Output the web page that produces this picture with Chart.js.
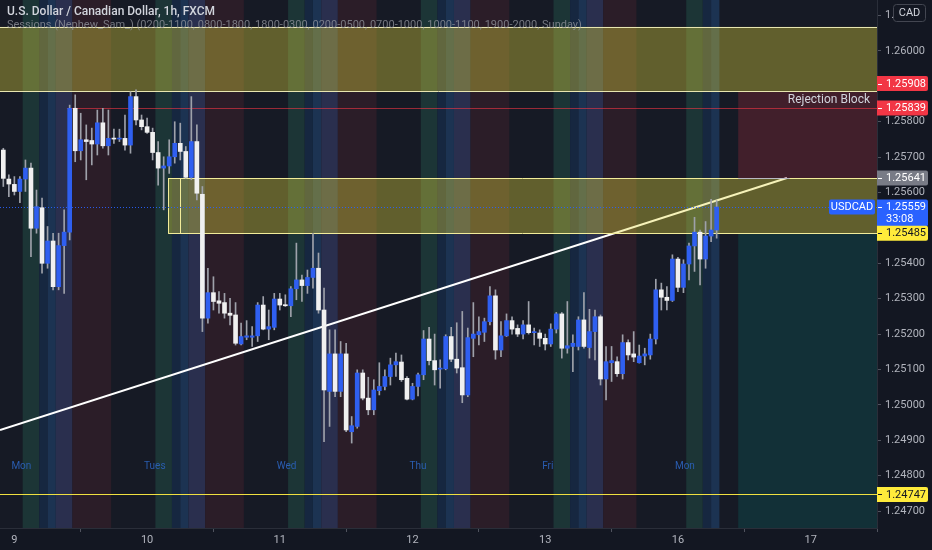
<!DOCTYPE html>
<html>
<head>
<meta charset="utf-8">
<script src="https://cdn.jsdelivr.net/npm/chart.js@4.4.0/dist/chart.umd.min.js"></script>
<style>
html, body { margin: 0; padding: 0; background: #131722; }
#wrap { width: 932px; height: 550px; position: relative; }
</style>
</head>
<body>
<div id="wrap"><canvas id="grafico"></canvas></div>
<script>
// Candles USDCAD 1h (FXCM)
const opens = [1.25720,1.25638,1.25623,1.25603,1.25638,1.25669,1.25499,1.25557,1.25400,1.25463,
  1.25334,1.25450,1.25488,1.25838,1.25718,1.25749,1.25747,1.25737,1.25797,1.25732,
  1.25753,1.25751,1.25753,1.25734,1.25871,1.25805,1.25786,1.25770,1.25713,1.25669,
  1.25675,1.25701,1.25739,1.25716,1.25643,1.25744,1.25595,1.25245,1.25317,1.25294,
  1.25289,1.25259,1.25254,1.25172,1.25191,1.25191,1.25195,1.25282,1.25214,1.25219,
  1.25299,1.25283,1.25280,1.25328,1.25353,1.25337,1.25360,1.25386,1.25268,1.25038,
  1.25144,1.25038,1.25144,1.24924,1.24939,1.25090,1.25019,1.24986,1.25040,1.25052,
  1.25080,1.25113,1.25121,1.25075,1.25016,1.25052,1.25085,1.25186,1.25125,1.25101,
  1.25102,1.25193,1.25129,1.25105,1.25028,1.25188,1.25198,1.25205,1.25235,1.25308,
  1.25155,1.25195,1.25238,1.25216,1.25200,1.25226,1.25204,1.25203,1.25188,1.25172,
  1.25214,1.25257,1.25160,1.25165,1.25165,1.25240,1.25162,1.25207,1.25249,1.25073,
  1.25119,1.25122,1.25088,1.25176,1.25144,1.25119,1.25138,1.25141,1.25186,1.25325,
  1.25304,1.25295,1.25412,1.25332,1.25398,1.25449,1.25488,1.25412,1.25477,1.25494];
const highs = [1.25725,1.25650,1.25645,1.25645,1.25692,1.25683,1.25607,1.25584,1.25504,1.25485,
  1.25485,1.25551,1.25847,1.25876,1.25824,1.25791,1.25782,1.25833,1.25838,1.25833,
  1.25779,1.25779,1.25819,1.25885,1.25890,1.25819,1.25810,1.25782,1.25744,1.25701,
  1.25749,1.25800,1.25796,1.25730,1.25871,1.25791,1.25617,1.25386,1.25362,1.25320,
  1.25315,1.25301,1.25289,1.25231,1.25238,1.25221,1.25289,1.25306,1.25268,1.25315,
  1.25315,1.25311,1.25334,1.25457,1.25367,1.25381,1.25485,1.25429,1.25330,1.25212,
  1.25212,1.25179,1.25174,1.24967,1.25099,1.25099,1.25078,1.25071,1.25119,1.25099,
  1.25132,1.25146,1.25141,1.25080,1.25061,1.25090,1.25210,1.25219,1.25200,1.25127,
  1.25198,1.25219,1.25232,1.25264,1.25217,1.25289,1.25249,1.25245,1.25334,1.25325,
  1.25235,1.25257,1.25249,1.25226,1.25238,1.25292,1.25217,1.25212,1.25200,1.25229,
  1.25261,1.25261,1.25292,1.25198,1.25249,1.25317,1.25270,1.25268,1.25254,1.25165,
  1.25165,1.25136,1.25198,1.25184,1.25207,1.25169,1.25160,1.25200,1.25355,1.25344,
  1.25334,1.25424,1.25417,1.25410,1.25457,1.25530,1.25494,1.25518,1.25581,1.25577];
const lows = [1.25617,1.25588,1.25593,1.25571,1.25603,1.25419,1.25485,1.25372,1.25386,1.25325,
  1.25325,1.25315,1.25466,1.25687,1.25692,1.25636,1.25678,1.25706,1.25725,1.25706,
  1.25739,1.25744,1.25720,1.25711,1.25791,1.25777,1.25767,1.25692,1.25621,1.25551,
  1.25654,1.25683,1.25692,1.25640,1.25636,1.25579,1.25207,1.25231,1.25268,1.25259,
  1.25245,1.25226,1.25169,1.25169,1.25184,1.25165,1.25179,1.25212,1.25184,1.25212,
  1.25268,1.25278,1.25249,1.25297,1.25292,1.25315,1.25330,1.25259,1.24896,1.24939,
  1.25023,1.25023,1.24924,1.24892,1.24934,1.25014,1.24972,1.24972,1.25028,1.25042,
  1.25056,1.25080,1.25066,1.25014,1.25014,1.25025,1.25071,1.25113,1.25056,1.25047,
  1.25099,1.25122,1.25090,1.25006,1.25023,1.25136,1.25169,1.25179,1.25226,1.25129,
  1.25136,1.25193,1.25200,1.25193,1.25186,1.25200,1.25169,1.25165,1.25155,1.25165,
  1.25203,1.25132,1.25146,1.25094,1.25155,1.25160,1.25132,1.25127,1.25056,1.25014,
  1.25066,1.25080,1.25073,1.25127,1.25122,1.25118,1.25113,1.25129,1.25172,1.25268,
  1.25268,1.25292,1.25320,1.25317,1.25353,1.25377,1.25339,1.25386,1.25461,1.25471];
const closes = [1.25640,1.25624,1.25603,1.25638,1.25669,1.25499,1.25560,1.25400,1.25463,1.25334,
  1.25450,1.25488,1.25838,1.25718,1.25749,1.25744,1.25737,1.25797,1.25732,1.25753,
  1.25751,1.25753,1.25734,1.25871,1.25805,1.25786,1.25770,1.25713,1.25669,1.25675,
  1.25701,1.25739,1.25716,1.25643,1.25744,1.25598,1.25245,1.25317,1.25292,1.25287,
  1.25259,1.25253,1.25174,1.25193,1.25195,1.25195,1.25282,1.25214,1.25221,1.25299,
  1.25282,1.25280,1.25328,1.25353,1.25337,1.25360,1.25386,1.25268,1.25042,1.25144,
  1.25038,1.25144,1.24929,1.24941,1.25090,1.25019,1.24986,1.25042,1.25052,1.25080,
  1.25113,1.25122,1.25071,1.25016,1.25052,1.25085,1.25186,1.25125,1.25099,1.25103,
  1.25193,1.25129,1.25104,1.25028,1.25190,1.25200,1.25207,1.25235,1.25308,1.25155,
  1.25195,1.25238,1.25214,1.25200,1.25226,1.25204,1.25207,1.25188,1.25172,1.25214,
  1.25257,1.25160,1.25167,1.25174,1.25240,1.25165,1.25207,1.25249,1.25073,1.25122,
  1.25125,1.25088,1.25176,1.25141,1.25135,1.25138,1.25144,1.25186,1.25325,1.25304,
  1.25295,1.25412,1.25332,1.25398,1.25449,1.25488,1.25412,1.25477,1.25494,1.25559];

// Eixos
const dayTicks = [2, 26, 50, 74, 98, 122, 146];
const dayLabels = ['9', '10', '11', '12', '13', '16', '17'];
const priceTicks = [1.247, 1.248, 1.249, 1.250, 1.251, 1.252, 1.253, 1.254, 1.255, 1.256, 1.257, 1.258, 1.259, 1.260, 1.261];

// Sessões (indicador Nephew_Sam_)
const weekdayNames = ['Mon', 'Tues', 'Wed', 'Thu', 'Fri', 'Mon'];
const sessionDayStart = [2, 26, 50, 74, 98, 122];
const sessionDayEnd = [25.5, 49.5, 73.5, 97.5, 114.5, 129.5];
const sessionFrom = [1.5, 4.5, 6, 7.5, 10.5];
const sessionTo = [4.5, 6, 7.5, 10.5, 17.5];

// Desenhos
const trendX = [-0.6, 141.7];
const trendY = [1.24929, 1.25641];
const lastPrice = 1.25559;

const sessionColors = ['#1c3536', '#162740', '#1c3352', '#2a2f4e', '#2b1d28'];

const sessoesPlugin = {
    id: 'sessoes',
    beforeDatasetsDraw(chart) {
        const { ctx, chartArea: a, scales: { x } } = chart;
        ctx.save();
        ctx.beginPath();
        ctx.rect(a.left, a.top, a.width, a.height);
        ctx.clip();
        ctx.fillStyle = '#161a25';
        ctx.fillRect(a.left, a.top, a.width, a.height);
        sessionDayStart.forEach((d, i) => {
            sessionFrom.forEach((h0, j) => {
                const s = d + h0;
                const e = Math.min(d + sessionTo[j], sessionDayEnd[i]);
                if (e <= s) return;
                const x0 = x.getPixelForValue(s), x1 = x.getPixelForValue(e);
                ctx.fillStyle = sessionColors[j];
                ctx.fillRect(x0, a.top, x1 - x0, a.height);
            });
        });
        ctx.restore();
    },
    beforeDatasetDraw(chart, args) {
        if (args.index !== 1) return;
        const { ctx, chartArea: a, scales: { x, y } } = chart;
        const px = v => x.getPixelForValue(v);
        const py = v => y.getPixelForValue(v);
        ctx.save();
        ctx.beginPath();
        ctx.rect(a.left, a.top, a.width, a.height);
        ctx.clip();

        // zona amarela superior
        ctx.fillStyle = 'rgba(230, 220, 60, 0.36)';
        ctx.fillRect(a.left, py(1.26068), a.width, py(1.25887) - py(1.26068));
        // rejection block
        ctx.fillStyle = 'rgba(242, 54, 69, 0.2)';
        ctx.fillRect(px(132.9), py(1.25887), a.right - px(132.9), py(1.25641) - py(1.25887));
        // caixa teal
        ctx.fillStyle = 'rgba(0, 150, 136, 0.18)';
        ctx.fillRect(px(132.9), py(1.25485), a.right - px(132.9), a.bottom - py(1.25485));
        // caixa amarela do meio
        ctx.fillStyle = 'rgba(230, 220, 60, 0.36)';
        ctx.fillRect(px(29.8), py(1.25641), a.right - px(29.8), py(1.25485) - py(1.25641));

        const hline = (v, x0, x1, color, dash) => {
            const yy = Math.round(py(v)) + 0.5;
            ctx.strokeStyle = color;
            ctx.lineWidth = 1;
            ctx.setLineDash(dash || []);
            ctx.beginPath();
            ctx.moveTo(x0, yy);
            ctx.lineTo(x1, yy);
            ctx.stroke();
        };
        hline(1.26068, a.left, a.right, '#e8e6b0');
        hline(1.25887, a.left, a.right, '#e8e6b0');
        hline(1.25641, px(29.8), a.right, '#f2ec9a');
        hline(1.25485, px(29.8), a.right, '#f2ec9a');
        ctx.beginPath();
        ctx.moveTo(Math.round(px(29.8)) + 0.5, py(1.25641));
        ctx.lineTo(Math.round(px(29.8)) + 0.5, py(1.25485));
        ctx.moveTo(Math.round(px(32)) + 0.5, py(1.25641));
        ctx.lineTo(Math.round(px(32)) + 0.5, py(1.25485));
        ctx.stroke();
        hline(1.25641, px(132.9), px(142.2), '#b8bac2');
        hline(1.25839, px(11.5), a.right, 'rgba(242, 54, 69, 0.6)');
        hline(1.24747, a.left, a.right, '#f0e040');
        hline(lastPrice, a.left, a.right, 'rgba(41, 98, 255, 0.9)', [1, 2]);
        ctx.restore();
    },
    afterDraw(chart) {
        const { ctx, chartArea: a, scales: { x, y } } = chart;
        const px = v => x.getPixelForValue(v);
        const py = v => y.getPixelForValue(v);
        ctx.save();
        ctx.textBaseline = 'middle';

        // títulos
        ctx.font = '500 12px Roboto';
        ctx.fillStyle = '#d1d4dc';
        ctx.fillText('U.S. Dollar / Canadian Dollar, 1h, FXCM', 7, 12);
        ctx.font = '11px Roboto';
        ctx.fillStyle = 'rgba(150, 152, 160, 0.75)';
        ctx.fillText('Sessions (Nephew_Sam_) (0200-1100, 0800-1800, 1800-0300, 0200-0500, 0700-1000, 1000-1100, 1900-2000, Sunday)', 7, 25);

        // dias das sessões
        ctx.font = '10px Roboto';
        ctx.fillStyle = '#2a5db0';
        weekdayNames.forEach((n, i) => ctx.fillText(n, px(sessionDayStart[i]) - 3, py(1.24825)));

        // texto do rejection block
        ctx.font = '12px Roboto';
        ctx.fillStyle = '#d1d4dc';
        ctx.textAlign = 'right';
        ctx.fillText('Rejection Block', 870, py(1.25862));
        ctx.textAlign = 'left';

        // etiquetas de preço
        const tag = (v, bg, fg, extra) => {
            const yc = py(v);
            const h = extra ? 27 : 15;
            const top = yc - 7.5;
            ctx.fillStyle = bg;
            ctx.beginPath();
            ctx.roundRect(a.right, top, 51, h, [0, 2, 2, 0]);
            ctx.fill();
            ctx.strokeStyle = fg;
            ctx.beginPath();
            ctx.moveTo(a.right + 1, Math.round(yc) + 0.5);
            ctx.lineTo(a.right + 5, Math.round(yc) + 0.5);
            ctx.stroke();
            ctx.fillStyle = fg;
            ctx.font = '11px Roboto';
            ctx.fillText(v.toFixed(5), a.right + 9, yc + 0.5);
            if (extra) ctx.fillText(extra, a.right + 9, yc + 12.5);
        };
        tag(1.25908, '#f23645', '#ffffff');
        tag(1.25839, '#f23645', '#ffffff');
        tag(1.25641, '#787b86', '#ffffff');
        tag(lastPrice, '#2962ff', '#ffffff', '33:08');
        tag(1.25485, '#ffeb3b', '#131722');
        tag(1.24747, '#ffeb3b', '#131722');

        // USDCAD
        const yl = py(lastPrice);
        ctx.fillStyle = '#2962ff';
        ctx.beginPath();
        ctx.roundRect(829, yl - 7.5, 46, 15, 2);
        ctx.fill();
        ctx.fillStyle = '#ffffff';
        ctx.textAlign = 'center';
        ctx.fillText('USDCAD', 852, yl + 0.5);

        // CAD
        ctx.fillStyle = '#131722';
        ctx.strokeStyle = '#434651';
        ctx.beginPath();
        ctx.roundRect(893.5, 4.5, 32, 17, 3);
        ctx.fill();
        ctx.stroke();
        ctx.fillStyle = '#d1d4dc';
        ctx.fillText('CAD', 909.5, 13.5);
        ctx.restore();
    }
};

const upColor = '#2f5ff0';
const downColor = '#f0f0f0';

new Chart(document.getElementById('grafico').getContext('2d'), {
    type: 'bar',
    data: {
        datasets: [
            {
                type: 'line',
                data: trendX.map((v, i) => ({ x: v, y: trendY[i] })),
                borderColor: '#ffffff',
                borderWidth: 2,
                pointRadius: 0,
                order: 3
            },
            {
                data: highs.map((h, i) => ({ x: i, y: [lows[i], h] })),
                backgroundColor: '#9ea1aa',
                barThickness: 1,
                grouped: false,
                order: 2
            },
            {
                data: opens.map((o, i) => ({ x: i, y: [o, closes[i]] })),
                backgroundColor: opens.map((o, i) => closes[i] >= o ? upColor : downColor),
                barThickness: 4,
                minBarLength: 1,
                grouped: false,
                order: 1
            }
        ]
    },
    options: {
        responsive: true,
        maintainAspectRatio: false,
        animation: false,
        events: [],
        layout: { padding: 0 },
        plugins: { legend: { display: false }, tooltip: { enabled: false } },
        scales: {
            x: {
                type: 'linear',
                min: -0.6,
                max: 158,
                offset: false,
                afterBuildTicks: s => { s.ticks = dayTicks.map(v => ({ value: v })); },
                afterFit: s => { s.height = 22; s.paddingLeft = 0; s.paddingRight = 0; },
                ticks: {
                    callback: v => dayLabels[dayTicks.indexOf(v)],
                    color: '#b2b5be',
                    font: { family: 'Roboto', size: 11 },
                    maxRotation: 0,
                    autoSkip: false,
                    padding: 2
                },
                grid: { drawOnChartArea: false, tickLength: 4, color: '#50535e' },
                border: { color: '#2a2e39' }
            },
            y: {
                position: 'right',
                min: 1.24652,
                max: 1.26144,
                afterBuildTicks: s => { s.ticks = priceTicks.map(v => ({ value: v })); },
                afterFit: s => { s.width = 55; s.paddingTop = 0; s.paddingBottom = 0; },
                ticks: {
                    callback: v => (Math.abs(v - 1.259) < 1e-6 || Math.abs(v - 1.255) < 1e-6) ? '' : v.toFixed(5),
                    color: '#b2b5be',
                    font: { family: 'Roboto', size: 11 },
                    padding: 4
                },
                grid: { drawOnChartArea: false, tickLength: 4, color: '#50535e' },
                border: { color: '#2a2e39' }
            }
        }
    },
    plugins: [sessoesPlugin]
});
</script>
</body>
</html>
